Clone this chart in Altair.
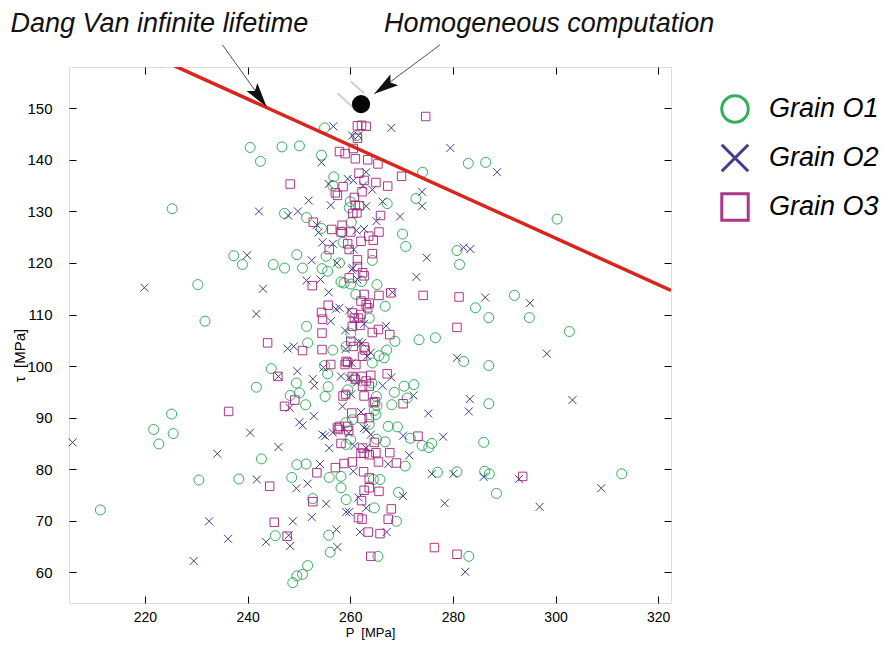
import altair as alt
import pandas as pd

# ---------------- data ----------------
P_DOMAIN = [205.2, 322.5]
TAU_DOMAIN = [54.05, 158.0]
x_ticks = [220, 240, 260, 280, 300, 320]
y_ticks = [60, 70, 80, 90, 100, 110, 120, 130, 140, 150]

series_names = ["Grain O1", "Grain O2", "Grain O3"]
series_colors = ["#1fa64b", "#2b2a80", "#a3227f"]
X_PATH = "M-1,-1L1,1M1,-1L-1,1"
series_shapes = ["circle", X_PATH, "square"]
series_sizes = [100, 64, 72]

grain_o1 = [
    (211.3, 72.1), (221.7, 87.7), (222.7, 84.9), (225.5, 86.9), (225.2, 90.7), (225.3, 130.5), (230.3, 115.8),
    (231.7, 108.7), (230.5, 77.9), (238.3, 78.1), (237.3, 121.4), (239.0, 119.7), (240.5, 142.4), (242.5, 139.7),
    (246.7, 142.5), (250.1, 142.7), (255.0, 146.2), (254.4, 140.9), (256.8, 136.7), (256.6, 135.0), (247.2, 129.6),
    (251.5, 128.8), (254.4, 126.7), (260.0, 131.9), (259.8, 130.7), (260.2, 127.9), (258.6, 124.0), (258.4, 126.0),
    (249.6, 121.6), (255.3, 121.3), (261.2, 144.7), (274.1, 137.6), (283.0, 139.3), (286.4, 139.5), (272.8, 132.5),
    (267.2, 131.5), (270.2, 125.6), (270.8, 123.2), (280.8, 122.4), (300.3, 128.5), (250.7, 119.0), (254.5, 118.9),
    (255.6, 118.4), (257.9, 120.0), (264.3, 120.5), (281.3, 119.7), (258.2, 116.3), (258.8, 116.1), (262.2, 116.4),
    (265.2, 115.8), (261.1, 113.9), (266.8, 111.6), (263.7, 109.3), (284.4, 111.3), (287.0, 109.4), (292.0, 113.7),
    (294.9, 109.4), (302.7, 106.7), (251.5, 107.7), (251.7, 104.5), (256.6, 103.1), (260.1, 106.3), (268.7, 104.8),
    (273.4, 105.1), (276.6, 105.5), (267.1, 103.1), (265.6, 102.0), (266.6, 101.6), (255.0, 100.1), (255.6, 98.5),
    (282.1, 100.9), (287.0, 100.1), (249.5, 96.7), (255.7, 96.0), (255.1, 94.1), (251.3, 92.5), (259.5, 95.4),
    (260.8, 97.7), (265.1, 94.1), (264.7, 91.4), (268.1, 92.5), (268.6, 94.9), (270.5, 96.1), (272.4, 96.4),
    (271.1, 93.8), (287.0, 92.7), (259.1, 89.0), (260.4, 89.6), (265.0, 90.6), (267.4, 88.3), (269.2, 88.2),
    (260.1, 85.8), (259.2, 84.8), (265.1, 85.8), (266.8, 85.3), (271.7, 86.0), (274.0, 84.6), (275.3, 84.2),
    (275.9, 85.0), (286.0, 85.2), (251.4, 81.0), (255.9, 78.4), (258.2, 78.6), (258.2, 76.4), (264.5, 78.0),
    (265.8, 78.0), (270.7, 80.6), (277.0, 79.4), (280.8, 79.5), (286.2, 79.6), (287.1, 79.1), (288.5, 75.3),
    (312.9, 79.1), (252.7, 74.3), (259.2, 74.1), (269.4, 75.5), (264.7, 72.5), (269.0, 69.9), (255.8, 67.2),
    (256.1, 63.9), (265.4, 63.1), (283.1, 63.1), (251.7, 61.3), (250.7, 59.6), (242.7, 82.0), (249.6, 80.9),
    (248.6, 78.4), (245.4, 67.1), (248.8, 58.0), (249.6, 59.3), (244.6, 99.5), (241.7, 95.9), (248.3, 94.3),
    (250.1, 94.8), (264.3, 100.6), (264.2, 96.7), (265.2, 92.3), (263.7, 88.7), (245.0, 119.7), (247.2, 119.0),
    (260.1, 115.9), (259.2, 103.8),
]

grain_o2 = [
    (205.9, 85.2), (219.9, 115.2), (229.5, 62.2), (232.5, 69.9), (234.1, 83.0), (236.2, 66.5), (240.5, 87.1),
    (241.8, 78.0), (243.6, 65.9), (246.0, 84.3), (248.8, 69.9), (248.3, 65.1), (248.0, 67.2), (249.5, 76.3),
    (251.7, 77.2), (252.5, 70.7), (254.1, 81.0), (255.3, 73.3), (257.3, 68.3), (257.5, 64.9), (259.2, 71.7),
    (259.8, 71.7), (261.9, 67.8), (267.1, 67.8), (261.6, 74.5), (263.1, 72.5), (270.3, 74.8), (278.4, 73.4),
    (275.9, 79.1), (280.1, 79.1), (286.0, 78.5), (292.9, 78.1), (296.9, 72.7), (308.9, 76.3), (282.4, 60.1),
    (278.1, 86.3), (271.5, 82.7), (270.3, 86.5), (267.4, 81.0), (260.6, 79.6), (255.9, 84.1), (255.1, 86.4),
    (254.6, 86.7), (259.7, 87.0), (263.1, 87.7), (264.0, 86.7), (250.7, 88.5), (250.1, 89.1), (256.6, 87.1),
    (260.8, 84.5), (239.9, 121.5), (243.0, 115.0), (241.7, 110.1), (252.5, 120.5), (251.5, 116.6), (254.2, 116.8),
    (255.8, 114.3), (257.4, 120.0), (257.2, 111.1), (257.9, 111.3), (256.2, 108.7), (259.8, 110.8), (259.0, 106.9),
    (247.8, 103.4), (249.0, 103.8), (249.7, 99.0), (246.0, 98.0), (252.7, 97.5), (253.0, 96.2), (254.8, 99.7),
    (248.2, 91.9), (252.9, 90.3), (258.5, 92.2), (260.2, 94.5), (260.3, 100.6), (260.3, 118.7), (261.4, 116.8),
    (256.7, 146.5), (254.4, 139.5), (242.2, 130.0), (247.9, 129.2), (249.8, 130.0), (251.9, 132.1), (256.2, 131.2),
    (255.8, 135.3), (259.5, 136.3), (260.6, 136.0), (253.5, 127.4), (253.8, 125.9), (254.6, 124.0), (256.6, 123.7),
    (260.7, 122.6), (260.4, 144.7), (261.6, 144.7), (268.0, 146.2), (279.5, 142.3), (288.6, 137.6), (263.1, 137.6),
    (262.5, 135.0), (263.1, 131.0), (266.3, 131.9), (274.0, 133.8), (274.0, 131.0), (269.7, 129.0), (265.1, 128.1),
    (262.7, 126.6), (261.2, 126.3), (282.1, 123.0), (283.4, 122.7), (274.9, 121.0), (260.5, 119.0), (272.9, 117.3),
    (268.2, 114.3), (286.3, 113.3), (295.0, 112.2), (262.7, 108.2), (260.8, 109.1), (267.0, 107.8), (261.7, 104.7),
    (262.3, 104.5), (264.0, 102.6), (263.3, 101.9), (280.8, 101.6), (298.3, 102.4), (259.1, 103.3), (268.0, 97.8),
    (259.8, 97.7), (266.3, 96.2), (272.3, 94.3), (283.3, 93.6), (283.1, 91.2), (303.3, 93.4), (275.2, 90.8),
    (262.1, 91.1), (262.7, 88.0), (264.3, 134.2), (261.3, 96.8), (258.2, 98.0), (263.1, 84.1),
]

grain_o3 = [
    (248.3, 135.3), (257.9, 141.6), (259.0, 141.2), (261.0, 140.2), (258.6, 134.8), (257.1, 133.6), (257.5, 133.1),
    (260.8, 132.7), (252.8, 127.9), (256.4, 126.5), (258.4, 127.3), (258.2, 126.0), (260.1, 126.0), (255.9, 122.6),
    (259.5, 123.7), (259.8, 122.6), (261.4, 146.6), (262.2, 146.7), (263.1, 146.5), (274.7, 148.4), (261.4, 144.2),
    (260.6, 142.2), (263.4, 140.0), (265.4, 139.2), (270.0, 136.8), (261.7, 137.4), (262.7, 136.0), (265.0, 135.6),
    (267.3, 134.9), (262.3, 133.8), (261.0, 131.2), (261.8, 131.1), (260.5, 129.6), (261.3, 129.7), (265.9, 129.2),
    (263.6, 125.2), (264.5, 124.4), (265.6, 126.0), (262.1, 124.2), (264.3, 121.8), (252.6, 115.6), (254.4, 110.4),
    (254.6, 109.1), (255.7, 111.8), (254.5, 106.4), (243.9, 104.5), (250.7, 103.0), (254.5, 103.2), (256.2, 100.3),
    (259.0, 100.3), (259.2, 100.9), (245.9, 98.0), (249.2, 93.4), (247.2, 92.2), (258.6, 94.2), (259.1, 94.5),
    (236.3, 91.2), (260.3, 90.9), (257.5, 88.0), (259.8, 117.1), (261.4, 119.3), (261.4, 120.6), (260.4, 110.3),
    (260.8, 109.3), (260.4, 107.7), (260.1, 104.8), (260.6, 103.8), (260.4, 98.0), (261.0, 97.4), (262.4, 118.1),
    (262.7, 117.5), (262.7, 113.9), (265.6, 113.7), (267.9, 114.2), (274.2, 113.7), (281.2, 113.4), (262.1, 112.6),
    (263.1, 111.9), (263.7, 112.2), (262.1, 110.0), (261.6, 109.3), (263.4, 111.3), (261.9, 107.9), (264.3, 106.5),
    (265.5, 107.1), (267.7, 106.1), (280.8, 107.5), (262.7, 103.7), (262.9, 103.1), (259.5, 100.7), (261.1, 100.3),
    (262.4, 101.9), (264.0, 98.2), (262.3, 98.0), (263.1, 97.1), (263.7, 96.1), (262.4, 96.1), (267.2, 98.5),
    (262.7, 94.2), (264.5, 92.9), (264.8, 93.1), (270.3, 92.7), (262.3, 89.8), (263.7, 90.0), (257.9, 88.3),
    (259.5, 88.3), (257.7, 87.7), (259.7, 87.5), (258.2, 85.0), (273.2, 86.4), (262.4, 84.1), (262.7, 83.1),
    (262.1, 83.1), (264.7, 85.2), (263.7, 82.8), (265.0, 83.2), (267.7, 83.2), (265.5, 81.4), (269.0, 81.2),
    (257.1, 80.3), (258.8, 81.1), (260.4, 81.4), (253.5, 79.3), (262.6, 79.5), (263.7, 78.3), (262.7, 75.9),
    (263.7, 76.4), (265.6, 75.7), (252.7, 73.7), (262.2, 73.9), (268.0, 72.3), (261.6, 70.6), (262.3, 70.3),
    (267.4, 70.3), (263.5, 67.8), (265.8, 67.5), (264.0, 63.1), (276.4, 64.8), (280.8, 63.5), (293.6, 78.6),
    (244.3, 76.7), (245.2, 69.7), (247.7, 67.0),
]

# Dang Van infinite-lifetime line: tau = dv_b - dv_a * P
dv_a = 0.45
dv_b = 259.8

# Homogeneous computation result
homog_P = [262.1]
homog_tau = [150.8]

# grey shading strokes next to the dot
shade_P = [257.5, 260.1]
shade_tau = [152.9, 155.2]
shade_P2 = [260.4, 262.7]
shade_tau2 = [150.3, 152.9]

# annotations
annot_text = ["Dang Van infinite lifetime", "Homogeneous computation"]
annot_P = [193.8, 266.6]
annot_tau = [164.8, 164.8]
arrow_start_P = [235.1, 277.5]
arrow_start_tau = [162.3, 162.3]
arrow_tip_P = [243.7, 264.7]
arrow_tip_tau = [150.3, 152.8]
arrow_angle = [143.3, 234.7]

# ---------------- chart ----------------
FONT = "Liberation Sans"
XS = alt.Scale(domain=P_DOMAIN, nice=False, zero=False)
YS = alt.Scale(domain=TAU_DOMAIN, nice=False, zero=False)

rows = []
for name, pts in zip(series_names, [grain_o1, grain_o2, grain_o3]):
    for p, t in pts:
        rows.append({"grain": name, "P": p, "tau": t})
df = pd.DataFrame(rows)

legend = alt.Legend(
    orient="none", legendX=651, legendY=27, title=None, padding=0,
    symbolSize=700, symbolStrokeWidth=3, labelFontSize=27, labelFont=FONT,
    labelFontStyle="italic", labelColor="black", labelOffset=19, rowPadding=9,
    labelLimit=300,
)

tick_in = {"expr": "-7"}
axis_common = dict(grid=False, domain=False, tickColor="black", tickWidth=1, tickSize=tick_in,
                   labelFont=FONT, labelColor="black")

x_axis = alt.Axis(values=x_ticks, orient="bottom", labelPadding=14, labelFontSize=14, title="P \u00a0[MPa]",
                  titleFont=FONT, titleFontSize=13, titleFontWeight="normal", titleColor="black",
                  titleY=33.5, titleBaseline="alphabetic", titleAlign="center", **axis_common)
y_axis = alt.Axis(values=y_ticks, orient="left", labelPadding=24, labelFontSize=15, title="\u03c4 \u00a0[MPa]",
                  titleFont=FONT, titleFontSize=15, titleFontWeight="normal", titleColor="black",
                  titleX=-50, titleY=288, titleAlign="center", titleBaseline="middle", **axis_common)
x_axis_top = alt.Axis(values=x_ticks, orient="top", labels=False, title=None, **axis_common)
y_axis_right = alt.Axis(values=y_ticks, orient="right", labels=False, title=None, **axis_common)

layers = []
for name, color, shape, size in zip(series_names, series_colors, series_shapes, series_sizes):
    layers.append(
        alt.Chart(df[df.grain == name]).mark_point(filled=False, strokeWidth=1, size=size, opacity=0.9).encode(
            x=alt.X("P:Q", scale=XS, axis=x_axis if name == series_names[0] else None),
            y=alt.Y("tau:Q", scale=YS, axis=y_axis if name == series_names[0] else None),
            color=alt.Color("grain:N", scale=alt.Scale(domain=series_names, range=series_colors), legend=legend),
            shape=alt.Shape("grain:N", scale=alt.Scale(domain=series_names, range=series_shapes), legend=legend),
        )
    )

line_df = pd.DataFrame({"P": P_DOMAIN, "tau": [dv_b - dv_a * p for p in P_DOMAIN]})
dv_line = alt.Chart(line_df).mark_line(color="#d8261c", strokeWidth=3.5, clip=True).encode(
    x=alt.X("P:Q", scale=XS, axis=x_axis_top),
    y=alt.Y("tau:Q", scale=YS, axis=y_axis_right),
)

shade_df = pd.DataFrame({"P": shade_P, "tau": shade_tau, "P2": shade_P2, "tau2": shade_tau2})
shade = alt.Chart(shade_df).mark_rule(color="#cfcfcf", strokeWidth=2).encode(
    x=alt.X("P:Q", scale=XS, axis=None), y=alt.Y("tau:Q", scale=YS, axis=None),
    x2="P2:Q", y2="tau2:Q",
)

homog_df = pd.DataFrame({"P": homog_P, "tau": homog_tau})
dot = alt.Chart(homog_df).mark_point(filled=True, size=330, color="#050505", opacity=1).encode(
    x=alt.X("P:Q", scale=XS, axis=None), y=alt.Y("tau:Q", scale=YS, axis=None),
)

arr_df = pd.DataFrame({"P": arrow_start_P, "tau": arrow_start_tau, "P2": arrow_tip_P, "tau2": arrow_tip_tau,
                       "tipP": arrow_tip_P, "tipTau": arrow_tip_tau, "angle": arrow_angle})
arrow_lines = alt.Chart(arr_df).mark_rule(color="#222222", strokeWidth=0.8, clip=False).encode(
    x=alt.X("P:Q", scale=XS, axis=None), y=alt.Y("tau:Q", scale=YS, axis=None),
    x2="P2:Q", y2="tau2:Q",
)
HEAD = "M0,0L0.55,2L0,1.6L-0.55,2Z"
arrow_heads = alt.Chart(arr_df).mark_point(shape=HEAD, filled=True, color="#111111", size=600,
                                           opacity=1, clip=False).encode(
    x=alt.X("tipP:Q", scale=XS, axis=None), y=alt.Y("tipTau:Q", scale=YS, axis=None),
    angle=alt.Angle("angle:Q", scale=None),
)

txt_df = pd.DataFrame({"P": annot_P, "tau": annot_tau, "label": annot_text})
texts = alt.Chart(txt_df).mark_text(align="left", baseline="alphabetic", font=FONT,
                                    fontSize=27, fontStyle="italic", color="#111111", clip=False).encode(
    x=alt.X("P:Q", scale=XS, axis=None), y=alt.Y("tau:Q", scale=YS, axis=None), text="label:N",
)

chart = alt.layer(*layers, dv_line, shade, dot, arrow_lines, arrow_heads, texts).resolve_axis(
    x="independent", y="independent"
).properties(
    width=602, height=536,
    autosize=alt.AutoSizeParams(type="none"),
    padding={"left": 61, "top": 59, "right": 214, "bottom": 37},
).configure_view(stroke="black", strokeWidth=1).configure(background="white")

chart.save("out.html", embed_options={"renderer": "svg", "actions": False})
